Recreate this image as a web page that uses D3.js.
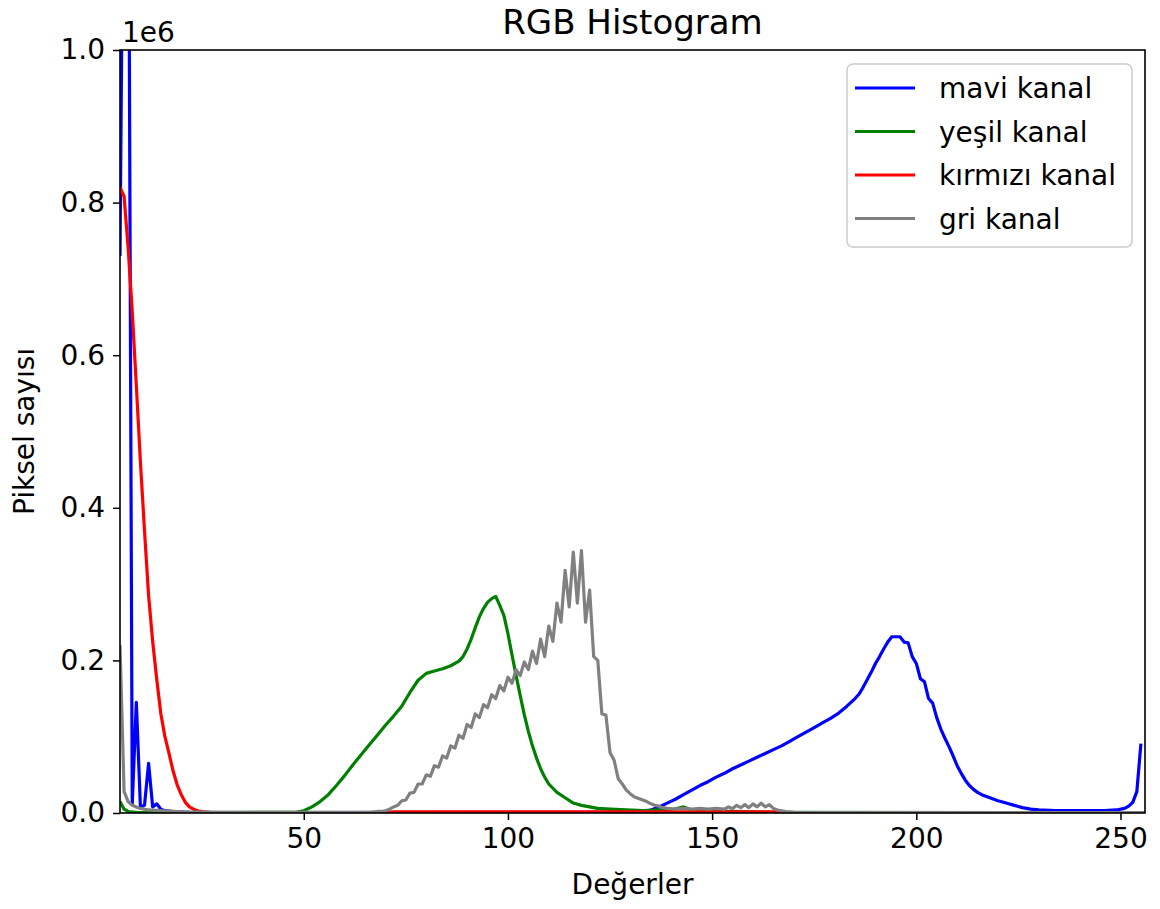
<!DOCTYPE html>
<html>
<head>
<meta charset="utf-8">
<script src="https://d3js.org/d3.v7.min.js"></script>
<title>RGB Histogram</title>
<style>
body { margin: 0; background: #fff; }
text { font-family: "DejaVu Sans", sans-serif; fill: #000; }
</style>
</head>
<body>
<svg id="canvas" width="1160" height="909"></svg>
<script>
// histogram counts, [bin, count / 1000]
var mavi = [[5,730],[6,1400],[7,1400],[8,12],[9,145],[10,8],[11,10],[12,65],[13,8],[14,12],[15,5],[16,3],[18,2],[22,1],[40,0.5],[130,1],[133,2],[135,4],[137,8],[139,13],[141,18],[143,24],[145,30],[147,36],[149,41],[151,47],[153,52],[155,58],[157,63],[159,68],[161,73],[163,78],[165,83],[167,88],[169,94],[171,100],[173,106],[175,112],[177,118],[179,124],[181,131],[183,140],[185,150],[186,156],[187,165],[188,175],[189,185],[190,196],[191,205],[192,215],[193,224],[194,231],[195,231],[196,231],[197,224],[198,223],[199,205],[200,196],[201,176],[202,172],[203,150],[204,144],[205,125],[206,110],[207,98],[208,87],[209,75],[210,62],[211,52],[212,43],[213,36],[214,31],[215,27],[216,24],[218,20],[220,16],[222,13],[224,10],[226,7],[228,5],[230,4],[234,3],[240,3],[246,3],[249,4],[251,6],[252,9],[253,14],[254,28],[255,91]];

var yesil = [[5,15],[6,5],[7,2],[9,1],[20,0.5],[48,1],[50,3],[52,8],[54,15],[56,24],[58,36],[60,49],[62,63],[64,76],[66,89],[68,102],[70,115],[72,127],[74,140],[76,158],[78,174],[80,183],[82,186],[84,189],[86,193],[88,199],[89,205],[90,215],[91,228],[92,243],[93,257],[94,268],[95,276],[96,281],[97,284],[98,272],[99,259],[100,235],[101,207],[102,180],[103,154],[104,129],[105,107],[106,88],[107,72],[108,58],[109,47],[110,38],[112,27],[114,20],[116,13],[118,10],[120,8],[122,6],[125,5],[129,4],[133,3],[137,4],[140,4],[143,8],[145,4],[148,2],[155,2],[165,1],[256,0.5]];

var kirmizi = [[5,820],[6,808],[7,740],[8,657],[9,560],[10,460],[11,370],[12,285],[13,225],[14,175],[15,130],[16,100],[17,78],[18,55],[19,37],[20,24],[21,14],[22,8],[23,5],[24,3],[25,2],[27,1],[35,0.3],[70,0.5],[72,1.5],[166,1.5],[168,0.3],[256,0.3]];

var gri = [[5,220],[6,28],[7,15],[8,10],[9,8],[10,6],[12,4],[15,3],[20,1.5],[30,1],[66,1],[68,2],[69,2],[70,3],[71,5],[72,8],[73,10],[74,16],[75,17],[76,26],[77,27],[78,38],[79,38],[80,50],[81,48],[82,62],[83,60],[84,75],[85,72],[86,88],[87,85],[88,102],[89,98],[90,116],[91,112],[92,130],[93,125],[94,142],[95,138],[96,155],[97,150],[98,167],[99,160],[100,178],[101,170],[102,188],[103,180],[104,198],[105,188],[106,212],[107,196],[108,228],[109,205],[110,245],[111,225],[112,275],[113,250],[114,318],[115,270],[116,342],[117,275],[118,344],[119,250],[120,292],[121,205],[122,200],[123,130],[124,128],[125,79],[126,69],[127,45],[128,38],[129,30],[130,25],[131,21],[132,19],[133,17],[134,15],[135,12],[136,10],[137,9],[138,7],[139,6],[141,5],[143,6],[145,5],[147,6],[149,5],[151,6],[153,5],[154,8],[155,6],[156,10],[157,7],[158,11],[159,7],[160,12],[161,8],[162,13],[163,8],[164,11],[165,6],[166,4],[168,2],[170,1],[256,0.5]];

var series = [
  {name: "mavi kanal", color: "#0000ff", data: mavi},
  {name: "yeşil kanal", color: "#008000", data: yesil},
  {name: "kırmızı kanal", color: "#ff0000", data: kirmizi},
  {name: "gri kanal", color: "#808080", data: gri}
];
var xTicks = [50, 100, 150, 200, 250];
var yTicks = [0, 200, 400, 600, 800, 1000];

var plotL = 120, plotR = 1145, plotT = 50, plotB = 813;
var svg = d3.select("#canvas");

var x = d3.scaleLinear().domain([5, 256]).range([plotL, plotR]);
var y = d3.scaleLinear().domain([0, 1000]).range([plotB, plotT]);

svg.append("clipPath").attr("id", "clip")
   .append("rect").attr("x", plotL).attr("y", plotT)
   .attr("width", plotR - plotL).attr("height", plotB - plotT);

var line = d3.line().x(function(d) { return x(d[0]); }).y(function(d) { return y(d[1]); });

svg.append("g").attr("clip-path", "url(#clip)")
   .selectAll("path").data(series).enter()
   .append("path")
   .attr("d", function(d) { return line(d.data); })
   .attr("fill", "none")
   .attr("stroke", function(d) { return d.color; })
   .attr("stroke-width", 3.2)
   .attr("stroke-linejoin", "round");

// axes
var xAxis = d3.axisBottom(x).tickValues(xTicks).tickSize(7).tickPadding(8);
var yAxis = d3.axisLeft(y).tickValues(yTicks).tickSize(7).tickPadding(8)
              .tickFormat(function(d) { return (d / 1000).toFixed(1); });

var gx = svg.append("g").attr("transform", "translate(0," + plotB + ")").call(xAxis);
var gy = svg.append("g").attr("transform", "translate(" + plotL + ",0)").call(yAxis);
[gx, gy].forEach(function(g) {
  g.select(".domain").remove();
  g.selectAll("line").attr("stroke", "#000").attr("stroke-width", 1.5);
  g.selectAll("text").style("font-size", "28px").attr("fill", "#000");
});

svg.append("rect").attr("x", plotL).attr("y", plotT)
   .attr("width", plotR - plotL).attr("height", plotB - plotT)
   .attr("fill", "none").attr("stroke", "#000").attr("stroke-width", 1.6);

svg.append("text").attr("x", plotL + 2).attr("y", 42).style("font-size", "28px").text("1e6");
svg.append("text").attr("x", (plotL + plotR) / 2).attr("y", 34).attr("text-anchor", "middle")
   .style("font-size", "34px").text("RGB Histogram");
svg.append("text").attr("x", (plotL + plotR) / 2).attr("y", 894).attr("text-anchor", "middle")
   .style("font-size", "28px").text("Değerler");
svg.append("text").attr("transform", "translate(34," + (plotT + plotB) / 2 + ") rotate(-90)")
   .attr("text-anchor", "middle").style("font-size", "28px").text("Piksel sayısı");

// legend
var lg = svg.append("g").attr("transform", "translate(847,64)");
lg.append("rect").attr("width", 285).attr("height", 183).attr("rx", 6)
  .attr("fill", "#fff").attr("fill-opacity", 0.8).attr("stroke", "#cccccc").attr("stroke-width", 1.5);
var items = lg.selectAll("g.item").data(series).enter().append("g")
  .attr("transform", function(d, i) { return "translate(0," + (24 + i * 43.5) + ")"; });
items.append("line").attr("x1", 8).attr("x2", 68)
  .attr("stroke", function(d) { return d.color; }).attr("stroke-width", 3.2);
items.append("text").attr("x", 92).attr("y", 10).style("font-size", "28px")
  .text(function(d) { return d.name; });
</script>
</body>
</html>
